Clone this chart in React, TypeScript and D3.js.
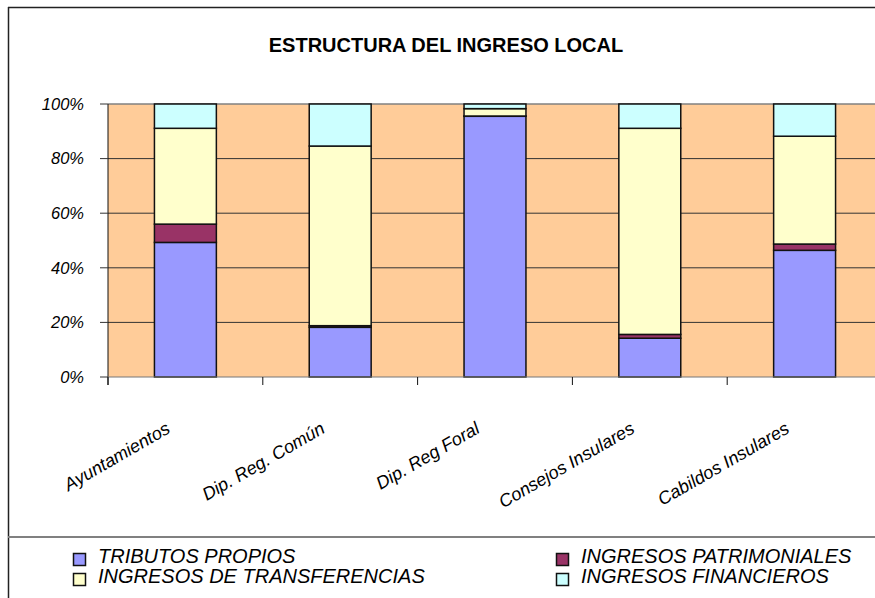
import React, { useEffect, useRef } from 'react';
import * as d3 from 'd3';

const categories = ['Ayuntamientos', 'Dip. Reg. Común', 'Dip. Reg Foral', 'Consejos Insulares', 'Cabildos Insulares'];
const seriesNames = ['TRIBUTOS PROPIOS', 'INGRESOS PATRIMONIALES', 'INGRESOS DE TRANSFERENCIAS', 'INGRESOS FINANCIEROS'];
const tributos = [49.3, 18.2, 95.5, 14.2, 46.4];
const patrimoniales = [6.7, 0.6, 0.1, 1.4, 2.3];
const transferencias = [35.1, 65.8, 2.7, 75.5, 39.5];
const financieros = [8.9, 15.4, 1.7, 8.9, 11.8];
const yTicks = [0, 20, 40, 60, 80, 100];
const colors = ['#9999FF', '#993366', '#FFFFCC', '#CCFFFF'];

function App() {
  const ref = useRef<SVGSVGElement>(null);

  useEffect(() => {
    const W = 875;
    const H = 598;
    const margin = { top: 104, right: -7, bottom: 221, left: 108 };
    const width = W - margin.left - margin.right;
    const height = H - margin.top - margin.bottom;

    const svg = d3.select(ref.current);
    svg.selectAll('*').remove();
    svg.attr('width', W).attr('height', H);

    const font = '"Liberation Sans", Arial, sans-serif';

    // frame
    svg.append('rect').attr('width', W).attr('height', H).attr('fill', '#fff');
    svg.append('line').attr('x1', 8).attr('x2', W).attr('y1', 7.5).attr('y2', 7.5).attr('stroke', '#222').attr('stroke-width', 1.5);
    svg.append('line').attr('x1', 8.5).attr('x2', 8.5).attr('y1', 7).attr('y2', H).attr('stroke', '#222').attr('stroke-width', 1.5);
    svg.append('line').attr('x1', 8).attr('x2', W).attr('y1', 537).attr('y2', 537).attr('stroke', '#808080').attr('stroke-width', 2);

    svg.append('text')
      .attr('x', 446).attr('y', 52)
      .attr('text-anchor', 'middle')
      .style('font-family', font).style('font-weight', 'bold').style('font-size', '20px')
      .text('ESTRUCTURA DEL INGRESO LOCAL');

    const table = categories.map((c, i) => ({
      cat: c,
      [seriesNames[0]]: tributos[i],
      [seriesNames[1]]: patrimoniales[i],
      [seriesNames[2]]: transferencias[i],
      [seriesNames[3]]: financieros[i],
    }));
    const stacked = d3.stack<any>().keys(seriesNames).offset(d3.stackOffsetExpand)(table);

    const x = d3.scaleBand().domain(categories).range([0, width]).paddingInner(0.6).paddingOuter(0.3);
    const y = d3.scaleLinear().domain([0, 1]).range([height, 0]);

    const g = svg.append('g').attr('transform', `translate(${margin.left},${margin.top})`);

    g.append('rect').attr('width', width).attr('height', height).attr('fill', '#FFCC99');

    g.selectAll('.grid')
      .data(yTicks.slice(1, -1))
      .join('line')
      .attr('x1', 0).attr('x2', width)
      .attr('y1', d => y(d / 100)).attr('y2', d => y(d / 100))
      .attr('stroke', '#333').attr('stroke-width', 1);

    g.append('line').attr('x1', 0).attr('x2', width).attr('y1', 0).attr('y2', 0).attr('stroke', '#808080').attr('stroke-width', 1.5);

    g.selectAll('.layer')
      .data(stacked)
      .join('g')
      .attr('fill', (_, i) => colors[i])
      .selectAll('rect')
      .data(d => d)
      .join('rect')
      .attr('x', d => x(d.data.cat) as number)
      .attr('width', x.bandwidth())
      .attr('y', d => y(d[1]))
      .attr('height', d => y(d[0]) - y(d[1]))
      .attr('stroke', '#111')
      .attr('stroke-width', 1.5);

    // y axis
    const yAxis = g.append('g');
    yAxis.append('line').attr('x1', 0).attr('x2', 0).attr('y1', 0).attr('y2', height + 8).attr('stroke', '#111');
    yAxis.selectAll('.tick')
      .data(yTicks)
      .join('line')
      .attr('x1', -8).attr('x2', 0)
      .attr('y1', d => y(d / 100)).attr('y2', d => y(d / 100))
      .attr('stroke', '#333');
    yAxis.selectAll('text')
      .data(yTicks)
      .join('text')
      .attr('x', -24).attr('y', d => y(d / 100))
      .attr('dy', '0.35em')
      .attr('text-anchor', 'end')
      .style('font-family', font).style('font-style', 'italic').style('font-size', '16.5px')
      .text(d => `${d}%`);

    // x axis
    const xAxis = g.append('g').attr('transform', `translate(0,${height})`);
    xAxis.append('line').attr('x1', 0).attr('x2', width).attr('stroke', '#777');
    const step = x.step();
    xAxis.selectAll('.tick')
      .data(d3.range(categories.length + 1))
      .join('line')
      .attr('x1', i => i * step).attr('x2', i => i * step)
      .attr('y1', 0).attr('y2', 8)
      .attr('stroke', '#111');
    xAxis.selectAll('text')
      .data(categories)
      .join('text')
      .attr('transform', d => `translate(${(x(d) as number) + x.bandwidth() / 2 - 14},55) rotate(-30)`)
      .attr('text-anchor', 'end')
      .style('font-family', font).style('font-style', 'italic').style('font-size', '18px')
      .text(d => d);

    // legend
    const legendPos = [
      { x: 73, y: 553 },
      { x: 556, y: 553 },
      { x: 73, y: 573 },
      { x: 556, y: 573 },
    ];
    const legend = svg.append('g');
    seriesNames.forEach((name, i) => {
      const p = legendPos[i];
      legend.append('rect')
        .attr('x', p.x + 0.5).attr('y', p.y + 0.5)
        .attr('width', 12).attr('height', 12)
        .attr('fill', colors[i]).attr('stroke', '#111').attr('stroke-width', 1.5);
      legend.append('text')
        .attr('x', p.x + 25).attr('y', p.y + 10)
        .style('font-family', font).style('font-style', 'italic').style('font-size', '20px')
        .text(name);
    });
  }, []);

  return <svg ref={ref} style={{ position: 'absolute', left: 0, top: 0 }} />;
}

export default App;
